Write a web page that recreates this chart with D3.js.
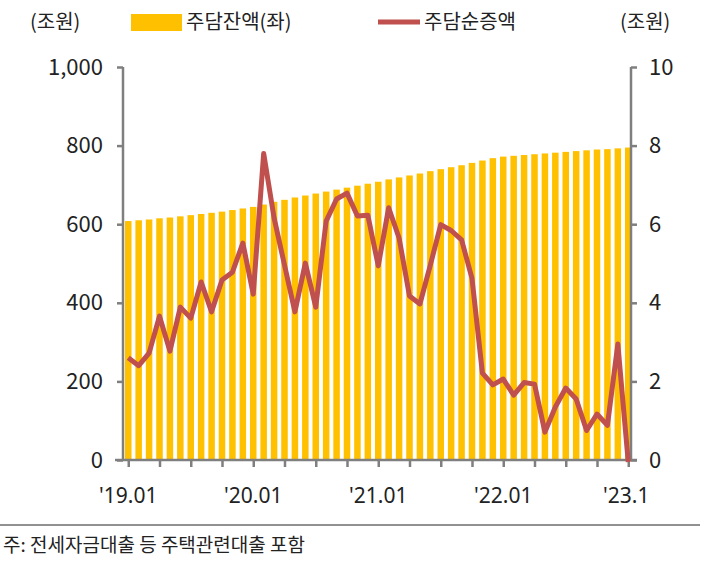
<!DOCTYPE html>
<html><head><meta charset="utf-8">
<script src="https://cdn.jsdelivr.net/npm/d3@7"></script>
<style>body{margin:0;background:#fff}text{font-family:"Noto Sans CJK KR","Noto Sans",sans-serif;fill:#222}</style>
</head><body>
<svg id="c" width="708" height="563"></svg>
<script>
const months = d3.range(49);
const tickLabels = ["'19.01","'20.01","'21.01","'22.01","'23.1"];
const balance = [608,610,612,615,617,620,623,626,629,632,636,640,644,650,657,662,668,673,678,683,688,693,698,703,708,714,719,724,729,735,740,745,750,756,762,768,772,774,776,778,780,782,784,786,788,790,791,793,795];
const netIncrease = [2.6,2.4,2.72,3.66,2.77,3.89,3.61,4.53,3.77,4.58,4.78,5.52,4.22,7.8,6.16,4.96,3.77,5.01,3.89,6.08,6.64,6.79,6.21,6.23,4.94,6.42,5.65,4.17,3.97,4.96,5.99,5.84,5.6,4.62,2.21,1.91,2.06,1.65,1.97,1.93,0.71,1.35,1.83,1.55,0.75,1.17,0.88,2.95,-0.05];

const svg = d3.select("#c");
const L=123,R=631,T=67,B=460;
const x = d3.scaleLinear().domain([0,48]).range([125,625]);
const bw = 6.5;
const yL = d3.scaleLinear().domain([0,1000]).range([B,T]);
const yR = d3.scaleLinear().domain([0,10]).range([B,T]);

svg.selectAll("rect.bar").data(balance).join("rect").attr("class","bar")
  .attr("x",(d,i)=>x(i)).attr("width",bw).attr("y",d=>yL(d)).attr("height",d=>B-yL(d)).attr("fill","#FFC000");

const gray="#7f7f7f";
const gl = svg.append("g").attr("transform",`translate(${L},0)`)
  .call(d3.axisLeft(yL).tickValues([0,200,400,600,800,1000]).tickFormat(d3.format(",")).tickSize(6).tickPadding(14));
const gr = svg.append("g").attr("transform",`translate(${R},0)`)
  .call(d3.axisRight(yR).tickValues([0,2,4,6,8,10]).tickSize(6).tickPadding(12));
const gb = svg.append("g").attr("transform",`translate(${bw/2},${B})`)
  .call(d3.axisBottom(x).tickValues(d3.range(0,49,3)).tickFormat(()=>"").tickSize(7).tickSizeOuter(0));
[gl,gr,gb].forEach(g=>{g.selectAll(".domain").attr("stroke",gray).attr("stroke-width",2.5);
  g.selectAll(".tick line").attr("stroke",gray).attr("stroke-width",2.5);
  g.selectAll("text").style("font-size","22px").attr("font-family","Noto Sans, sans-serif").attr("fill","#222");});
gb.select(".domain").attr("d",`M${L-8-bw/2},0H${R+6-bw/2}`);
gl.select(".domain").attr("d",`M0,${T}V${B}`);
gr.select(".domain").attr("d",`M0,${T}V${B}`);

svg.selectAll("text.xl").data(tickLabels).join("text").attr("class","xl")
  .attr("x",(d,i)=>x(i*12)+bw/2+(i==4?-2:0)).attr("y",503).attr("text-anchor","middle")
  .style("font-size","21px").style("font-family","Noto Sans, sans-serif").text(d=>d);

svg.append("path").datum(netIncrease)
  .attr("d",d3.line().x((d,i)=>x(i)+bw/2).y(d=>yR(d)))
  .attr("fill","none").attr("stroke","#C0504D").attr("stroke-width",5).attr("stroke-linejoin","round");

svg.append("text").attr("x",30).attr("y",29).style("font-size","20px").text("(조원)");
svg.append("text").attr("x",620).attr("y",29).style("font-size","20px").text("(조원)");
svg.append("rect").attr("x",131).attr("y",14).attr("width",51).attr("height",17).attr("fill","#FFC000");
svg.append("text").attr("x",186).attr("y",29).style("font-size","20px").text("주담잔액(좌)");
svg.append("line").attr("x1",378).attr("x2",420).attr("y1",22).attr("y2",22).attr("stroke","#C0504D").attr("stroke-width",5);
svg.append("text").attr("x",424).attr("y",29).style("font-size","20px").text("주담순증액");
svg.append("line").attr("x1",0).attr("x2",700).attr("y1",525).attr("y2",525).attr("stroke","#222").attr("stroke-width",1);
svg.append("text").attr("x",3).attr("y",552).style("font-size","19px").text("주: 전세자금대출 등 주택관련대출 포함");
</script></body></html>
